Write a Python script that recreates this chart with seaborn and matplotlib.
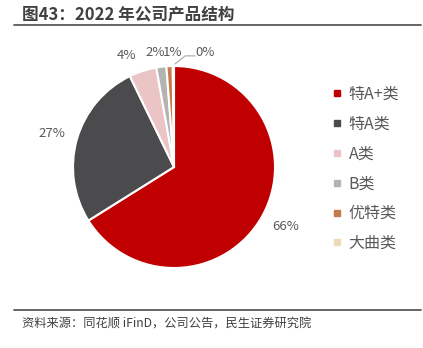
import matplotlib
matplotlib.use("Agg")
import matplotlib.pyplot as plt
from matplotlib.lines import Line2D
import seaborn as sns

sns.set_theme(style="white")
plt.rcParams['font.family'] = ['Noto Sans CJK SC', 'DejaVu Sans']

categories = ["特A+类", "特A类", "A类", "B类", "优特类", "大曲类"]
values = [66.1, 26.7, 4.4, 1.6, 1.0, 0.2]
pct_labels = ["66%", "27%", "4%", "2%", "1%", "0%"]
colors = ["#C00000", "#4B4B4D", "#EBC5C6", "#B3B3B3", "#C47A4A", "#EEDAB8"]
title = "图43：2022 年公司产品结构"
source = "资料来源：同花顺 iFinD，公司公告，民生证券研究院"

W, H = 423, 348
fig = plt.figure(figsize=(W / 100, H / 100), dpi=100)
fig.patch.set_facecolor("white")

cx, cy, r = 174, 167, 101
ax = fig.add_axes([(cx - r) / W, (H - cy - r) / H, 2 * r / W, 2 * r / H])
wedges, _ = ax.pie(values, colors=colors, startangle=90, counterclock=False,
                   radius=1.0, wedgeprops=dict(edgecolor="white", linewidth=1.5))
ax.set_xlim(-1, 1)
ax.set_ylim(-1, 1)
ax.set_aspect("equal")
ax.axis("off")

label_pos = [(1.11, -0.59), (-1.21, 0.33), (-0.47, 1.10), (-0.19, 1.13), (-0.01, 1.13), (0.31, 1.13)]
for (lx, ly), t in zip(label_pos, pct_labels):
    ax.text(lx, ly, t, ha="center", va="center", fontsize=9.5, color="#595959", clip_on=False)
ax.plot([0.01, 0.11, 0.21], [1.02, 1.10, 1.10], color="#A6A6A6", lw=0.8, clip_on=False)

handles = [Line2D([0], [0], marker="s", linestyle="none", markersize=5,
                  markerfacecolor=c, markeredgecolor=c) for c in colors]
fig.legend(handles, categories, loc="upper left", bbox_to_anchor=(332 / W, 1 - 86 / H),
           frameon=False, fontsize=11.5, labelcolor="#595959", handlelength=0.6,
           handletextpad=0.45, labelspacing=0.8, borderaxespad=0, borderpad=0)

fig.text(22 / W, 1 - 14 / H, title, fontsize=12, fontweight="bold", color="#404040",
         ha="left", va="center")
fig.add_artist(Line2D([14 / W, 421 / W], [1 - 25 / H, 1 - 25 / H], color="#595959", lw=1.3))
fig.add_artist(Line2D([14 / W, 421 / W], [1 - 310 / H, 1 - 310 / H], color="#595959", lw=1.3))
fig.text(22 / W, 1 - 324 / H, source, fontsize=8.8, color="#404040", ha="left", va="center")

fig.savefig("out.png", dpi=100, facecolor="white")
